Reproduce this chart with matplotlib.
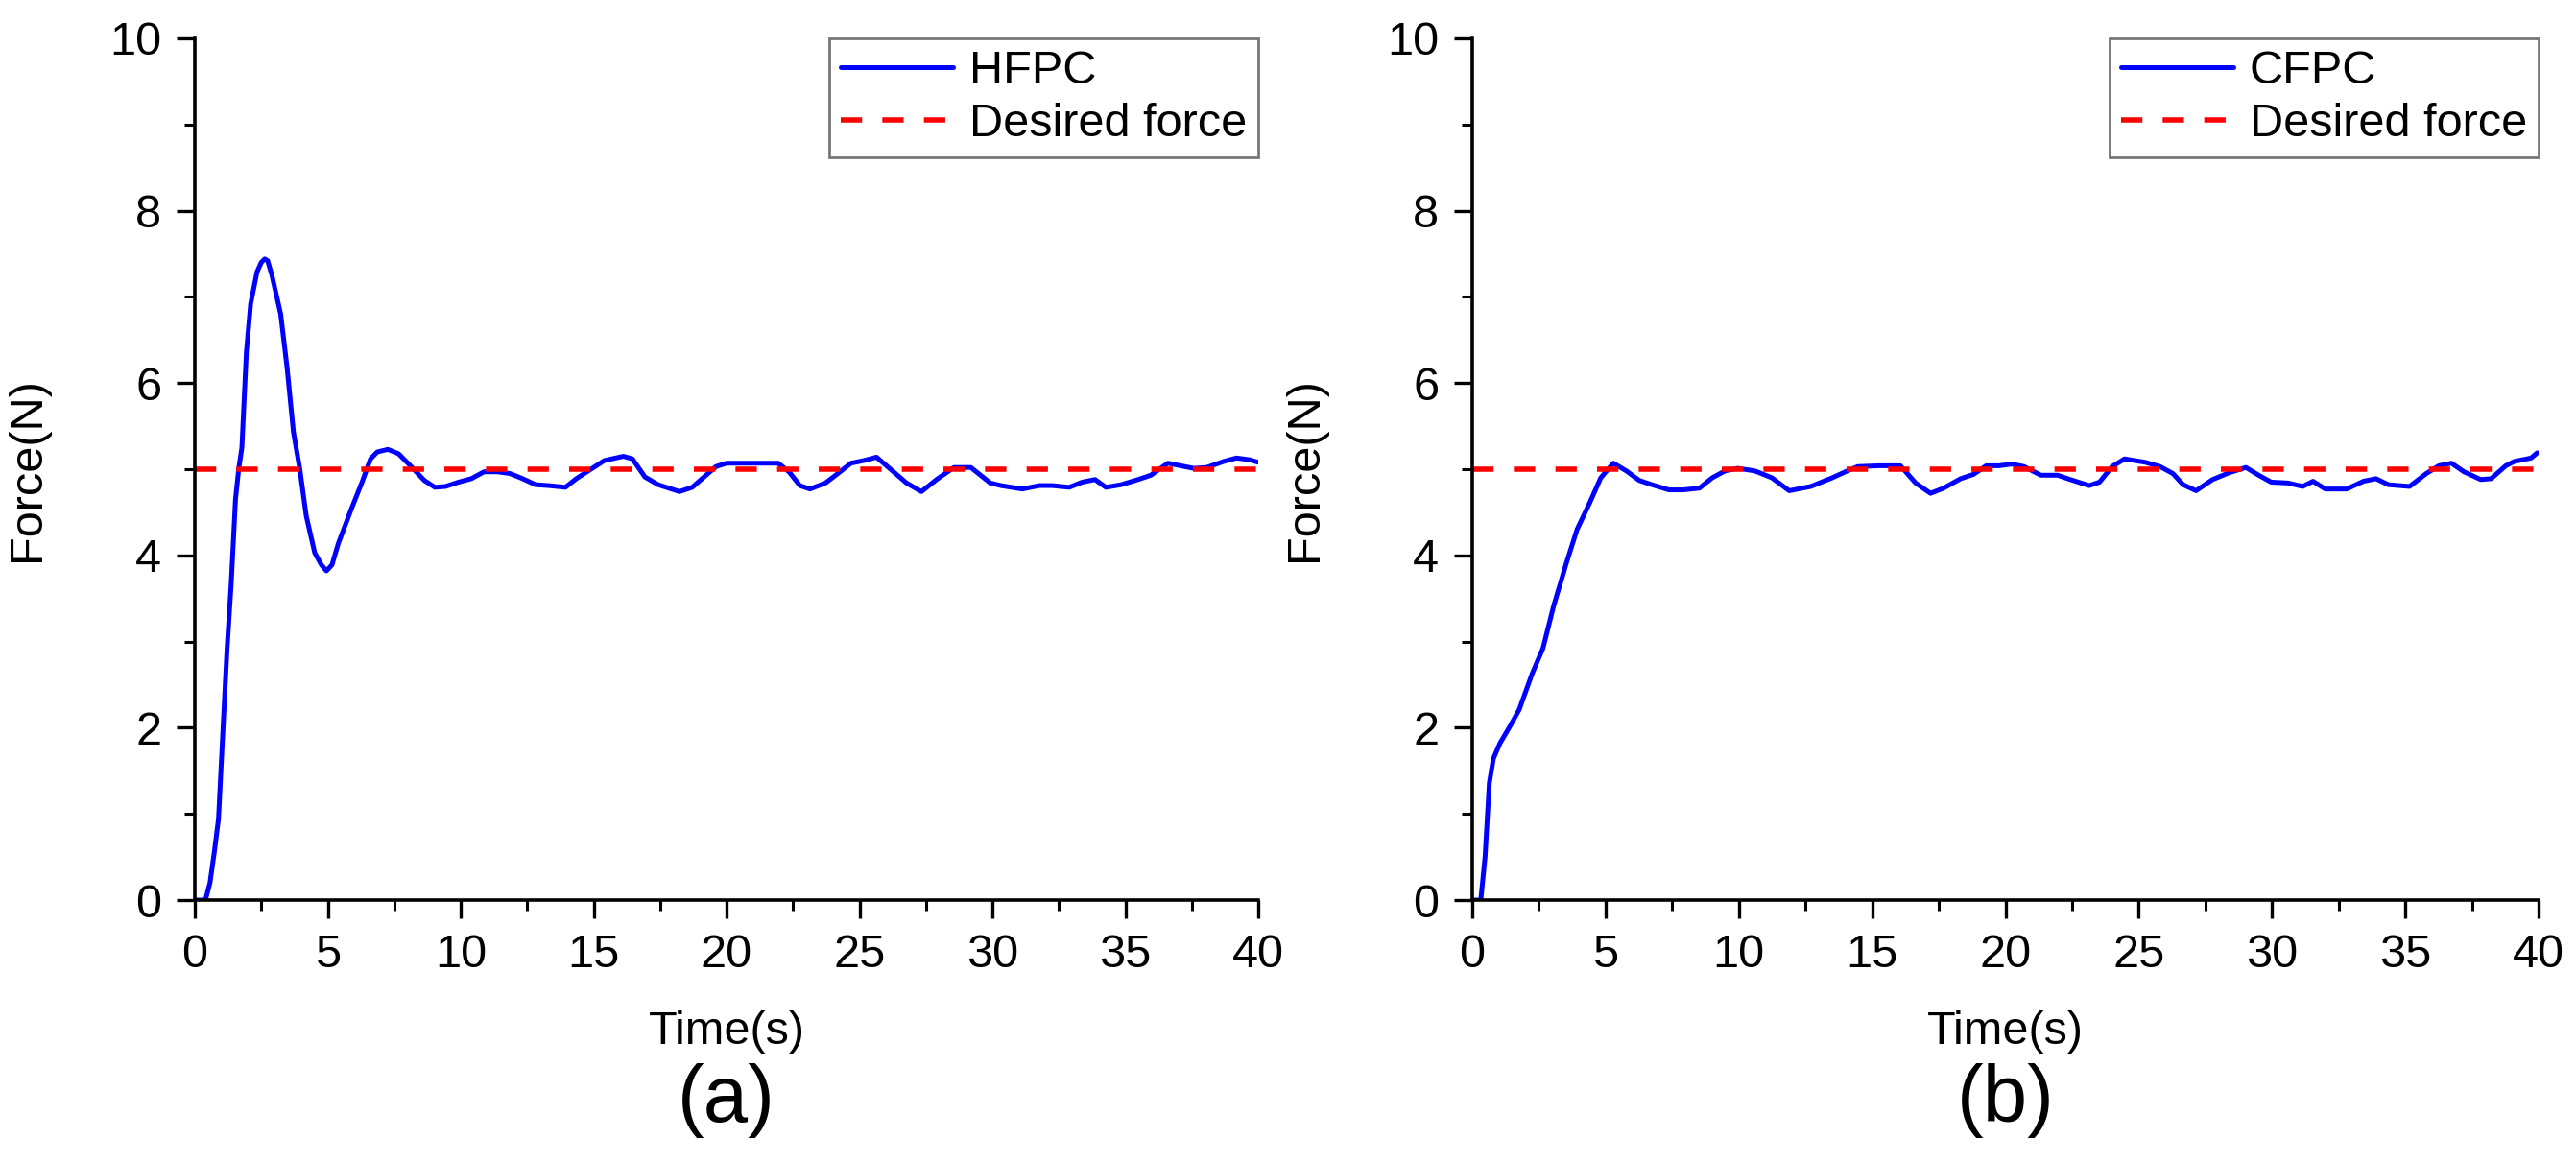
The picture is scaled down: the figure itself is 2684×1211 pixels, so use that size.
import matplotlib
matplotlib.use("Agg")
import matplotlib.pyplot as plt
from matplotlib.ticker import MultipleLocator

plt.rcParams['font.family'] = ['Liberation Sans', 'DejaVu Sans']

# ---- data ----
t_hfpc = [0, 0.4, 0.57, 0.73, 0.89, 1.05, 1.21, 1.37, 1.53, 1.65, 1.77, 1.94, 2.1, 2.34, 2.5, 2.63, 2.74, 2.9,
          3.23, 3.47, 3.71, 3.95, 4.19, 4.51, 4.76, 4.95, 5.16, 5.4, 5.89, 6.29, 6.61, 6.86, 7.26, 7.66,
          8.14, 8.63, 9.03, 9.43, 9.92, 10.4, 10.88, 11.37, 11.85, 12.33, 12.82, 13.3, 13.94,
          14.35, 14.9, 15.4, 16.12, 16.46, 16.93, 17.43, 18.23, 18.71, 19.6, 20.0, 20.97,
          21.94, 22.35, 22.76, 23.14, 23.72, 24.19, 24.68, 25.16, 25.64, 26.13, 26.77, 27.33,
          27.9, 28.55, 29.19, 29.92, 30.32, 31.12, 31.77, 32.24, 32.89, 33.38, 33.86, 34.27,
          34.84, 35.48, 35.96, 36.6, 37.08, 37.57, 38.06, 38.7, 39.18, 39.67, 40.0]
f_hfpc = [0, 0, 0.2, 0.55, 0.94, 1.92, 2.9, 3.68, 4.65, 5.0, 5.25, 6.36, 6.92, 7.29, 7.4, 7.44, 7.42, 7.25,
          6.8, 6.18, 5.43, 5.0, 4.46, 4.03, 3.89, 3.82, 3.89, 4.14, 4.54, 4.85, 5.12, 5.2, 5.23, 5.18,
          5.03, 4.87, 4.79, 4.8, 4.85, 4.89, 4.97, 4.97, 4.95, 4.89, 4.82, 4.81, 4.79,
          4.89, 5.0, 5.1, 5.15, 5.12, 4.91, 4.82, 4.74, 4.79, 5.03, 5.07, 5.07,
          5.07, 4.97, 4.81, 4.77, 4.84, 4.95, 5.07, 5.1, 5.14, 5.01, 4.84, 4.74,
          4.88, 5.02, 5.02, 4.84, 4.81, 4.77, 4.81, 4.81, 4.79, 4.85, 4.88, 4.79,
          4.82, 4.88, 4.93, 5.07, 5.04, 5.01, 5.02, 5.09, 5.13, 5.11, 5.08]

t_cfpc = [0, 0.32, 0.48, 0.64, 0.79, 1.04, 1.44, 1.76, 2.25, 2.65, 3.05, 3.53, 3.93, 4.42,
          4.82, 5.29, 5.78, 6.26, 6.74, 7.38, 7.9, 8.52, 9.0, 9.48, 9.96, 10.6, 11.24, 11.89,
          12.7, 13.5, 14.14, 14.46, 15.26, 16.06, 16.63, 17.19, 17.68, 18.32, 18.8, 19.28,
          19.77, 20.24, 20.7, 21.33, 21.96, 22.43, 23.14, 23.53, 24.0, 24.47, 25.25, 25.8,
          26.28, 26.67, 27.15, 27.77, 28.4, 29.02, 29.5, 29.97, 30.6, 31.15, 31.54, 32.0,
          32.8, 33.43, 33.9, 34.37, 35.16, 35.79, 36.26, 36.73, 37.2, 37.83, 38.22, 38.77,
          39.09, 39.72, 39.95]
f_cfpc = [0, 0, 0.5, 1.36, 1.64, 1.82, 2.03, 2.21, 2.63, 2.92, 3.41, 3.91, 4.3, 4.62,
          4.9, 5.07, 4.98, 4.87, 4.82, 4.76, 4.76, 4.78, 4.9, 4.98, 5.01, 4.98, 4.9, 4.75,
          4.8, 4.9, 4.99, 5.03, 5.04, 5.04, 4.84, 4.72, 4.78, 4.89, 4.94, 5.04,
          5.04, 5.06, 5.03, 4.93, 4.93, 4.88, 4.81, 4.85, 5.03, 5.12, 5.08, 5.03,
          4.95, 4.82, 4.75, 4.88, 4.96, 5.02, 4.93, 4.85, 4.84, 4.8, 4.86, 4.77,
          4.77, 4.86, 4.89, 4.82, 4.8, 4.95, 5.04, 5.07, 4.97, 4.88, 4.89, 5.04,
          5.09, 5.13, 5.19]

desired_force = 5.0
t_range = [0, 40]
series_names = ["HFPC", "CFPC"]
panel_labels = ["(a)", "(b)"]

W, H = 2684, 1211
fig = plt.figure(figsize=(W / 100, H / 100), dpi=100)

axes_px = [(203, 1311), (1534, 2645)]
top_px, bot_px = 40, 938

FS = 35
datasets = [(t_hfpc, f_hfpc), (t_cfpc, f_cfpc)]

for i, ((x0, x1), (t, f)) in enumerate(zip(axes_px, datasets)):
    ax = fig.add_axes([x0 / W, 1 - bot_px / H, (x1 - x0) / W, (bot_px - top_px) / H])
    ax.plot(t, f, color='#0000FF', lw=3.6, label=series_names[i],
            solid_joinstyle='round', solid_capstyle='round')
    ax.plot(t_range, [desired_force, desired_force], color='#FF0000', lw=4.0,
            dashes=(4, 3.8), label='Desired force')
    ax.set_xlim(0, 40)
    ax.set_ylim(0, 10)
    ax.xaxis.set_major_locator(MultipleLocator(5))
    ax.xaxis.set_minor_locator(MultipleLocator(2.5))
    ax.yaxis.set_major_locator(MultipleLocator(2))
    ax.yaxis.set_minor_locator(MultipleLocator(1))
    for s in ['top', 'right']:
        ax.spines[s].set_visible(False)
    for s in ['left', 'bottom']:
        ax.spines[s].set_linewidth(2.6)
    ax.tick_params(which='major', length=14, width=2.4, direction='out',
                   labelsize=FS, pad=11)
    ax.tick_params(which='minor', length=8, width=2.2, direction='out')
    ax.set_xlabel('Time(s)', fontsize=FS)
    ax.set_ylabel('Force(N)', fontsize=FS)
    ax.xaxis.set_label_coords(0.5, -0.128)
    ax.yaxis.set_label_coords(-0.137, 0.5)
    leg = ax.legend(loc='upper right', bbox_to_anchor=(1.0, 1.0), borderaxespad=0,
                    fontsize=FS, handlelength=2.4, handletextpad=0.35,
                    labelspacing=0.2, borderpad=0.25, fancybox=False, frameon=True)
    leg.get_frame().set_edgecolor('#555555')
    leg.get_frame().set_linewidth(2.0)
    fig.text(((x0 + x1) / 2) / W, 1 - 1147 / H, panel_labels[i], fontsize=60,
             ha='center', va='center')

fig.savefig('out.png', dpi=100)
